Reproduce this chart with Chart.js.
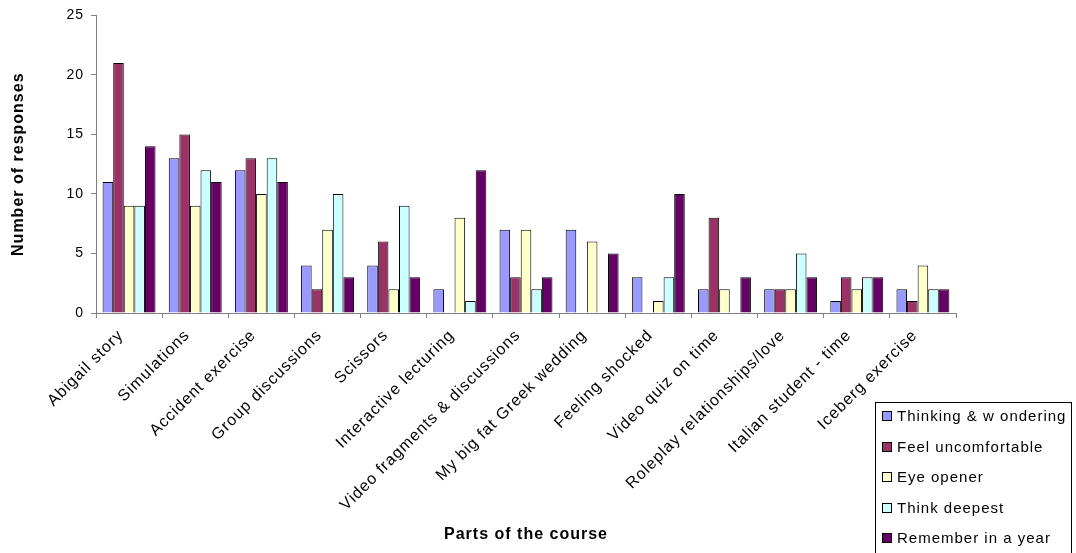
<!DOCTYPE html>
<html>
<head>
<meta charset="utf-8">
<script src="https://cdn.jsdelivr.net/npm/chart.js@4.4.0/dist/chart.umd.min.js"></script>
<style>
  html, body { margin: 0; padding: 0; background: #fff; }
  canvas { display: block; }
</style>
</head>
<body>
<canvas id="chart" width="1076" height="553"></canvas>
<script>
// Chart values
const categories = [
  'Abigail story', 'Simulations', 'Accident exercise', 'Group discussions',
  'Scissors', 'Interactive lecturing', 'Video fragments & discussions',
  'My big fat Greek wedding', 'Feeling shocked', 'Video quiz on time',
  'Roleplay relationships/love', 'Italian student - time', 'Iceberg exercise'
];
const thinkingWondering = [11, 13, 12, 4, 4, 2, 7, 7, 3, 2, 2, 1, 2];
const feelUncomfortable = [21, 15, 13, 2, 6, 0, 3, 0, 0, 8, 2, 3, 1];
const eyeOpener         = [9, 9, 10, 7, 2, 8, 7, 6, 1, 2, 2, 2, 4];
const thinkDeepest      = [9, 12, 13, 10, 9, 1, 2, 0, 3, 0, 5, 3, 2];
const rememberInAYear   = [14, 11, 11, 3, 3, 12, 3, 5, 10, 3, 3, 3, 2];
const yTicks = [0, 5, 10, 15, 20, 25];

const seriesNames = ['Thinking & w ondering', 'Feel uncomfortable', 'Eye opener', 'Think deepest', 'Remember in a year'];
const seriesColors = ['#9999FF', '#993366', '#FFFFCC', '#CCFFFF', '#660066'];
const seriesData = [thinkingWondering, feelUncomfortable, eyeOpener, thinkDeepest, rememberInAYear];

const FONT = 'Liberation Sans, Arial, sans-serif';

// the original text is a bit loose, so add letter spacing on the canvas
const spacing = {
  id: 'spacing',
  beforeUpdate(chart) { chart.ctx.letterSpacing = '1px'; },
  beforeLayout(chart) { chart.ctx.letterSpacing = '1px'; },
  beforeDraw(chart) { chart.ctx.letterSpacing = '1px'; }
};

// legend drawn by hand so it can sit over the bottom right corner like the original
const boxLegend = {
  id: 'boxLegend',
  afterDraw(chart) {
    const ctx = chart.ctx;
    const x = 875, y = 402, w = 196, h = 160;
    ctx.save();
    ctx.fillStyle = '#fff';
    ctx.fillRect(x, y, w, h);
    ctx.strokeStyle = '#000';
    ctx.lineWidth = 1;
    ctx.strokeRect(x + 0.5, y + 0.5, w, h);
    ctx.font = '15px ' + FONT;
    ctx.textBaseline = 'middle';
    chart.data.datasets.forEach(function(ds, i) {
      const cy = Math.round(y + 14 + i * 30.5);
      ctx.fillStyle = ds.backgroundColor;
      ctx.fillRect(882.5, cy - 4.5, 9, 9);
      ctx.strokeStyle = '#000';
      ctx.strokeRect(882.5, cy - 4.5, 9, 9);
      ctx.fillStyle = '#000';
      ctx.fillText(ds.label, 897, cy + 1);
    });
    ctx.restore();
  }
};

const ctx = document.getElementById('chart').getContext('2d');
new Chart(ctx, {
  type: 'bar',
  data: {
    labels: categories,
    datasets: seriesNames.map(function(name, i) {
      return {
        label: name,
        data: seriesData[i],
        backgroundColor: seriesColors[i],
        borderColor: '#000',
        borderWidth: 1,
        borderSkipped: 'bottom',
        barPercentage: 1,
        categoryPercentage: 0.8
      };
    })
  },
  options: {
    responsive: false,
    animation: false,
    layout: { padding: { top: 15, right: 120, left: 0, bottom: 0 } },
    plugins: {
      legend: { display: false },
      tooltip: { enabled: false }
    },
    scales: {
      x: {
        grid: { display: true, drawOnChartArea: false, drawTicks: true, tickLength: 5, color: '#808080', offset: true },
        border: { color: '#808080', width: 1 },
        ticks: {
          color: '#000', font: { family: FONT, size: 16 },
          maxRotation: 45, minRotation: 45, autoSkip: false,
          padding: 8, labelOffset: -8
        },
        title: {
          display: true, text: 'Parts of the course', color: '#000',
          font: { family: FONT, size: 16, weight: 'bold' },
          padding: { top: 0, bottom: 9 }
        },
        afterFit: function(scale) { scale.height = 240; }
      },
      y: {
        min: 0, max: 25,
        grid: { display: true, drawOnChartArea: false, drawTicks: true, tickLength: 5, color: '#808080' },
        border: { color: '#808080', width: 1 },
        afterBuildTicks: function(scale) { scale.ticks = yTicks.map(function(v) { return { value: v }; }); },
        ticks: { color: '#000', font: { family: FONT, size: 14 }, padding: 7 },
        title: {
          display: true, text: 'Number of responses', color: '#000',
          font: { family: FONT, size: 16, weight: 'bold' },
          padding: { top: 9, bottom: 0 }
        },
        afterFit: function(scale) { scale.width = 96; }
      }
    }
  },
  plugins: [spacing, boxLegend]
});
</script>
</body>
</html>
